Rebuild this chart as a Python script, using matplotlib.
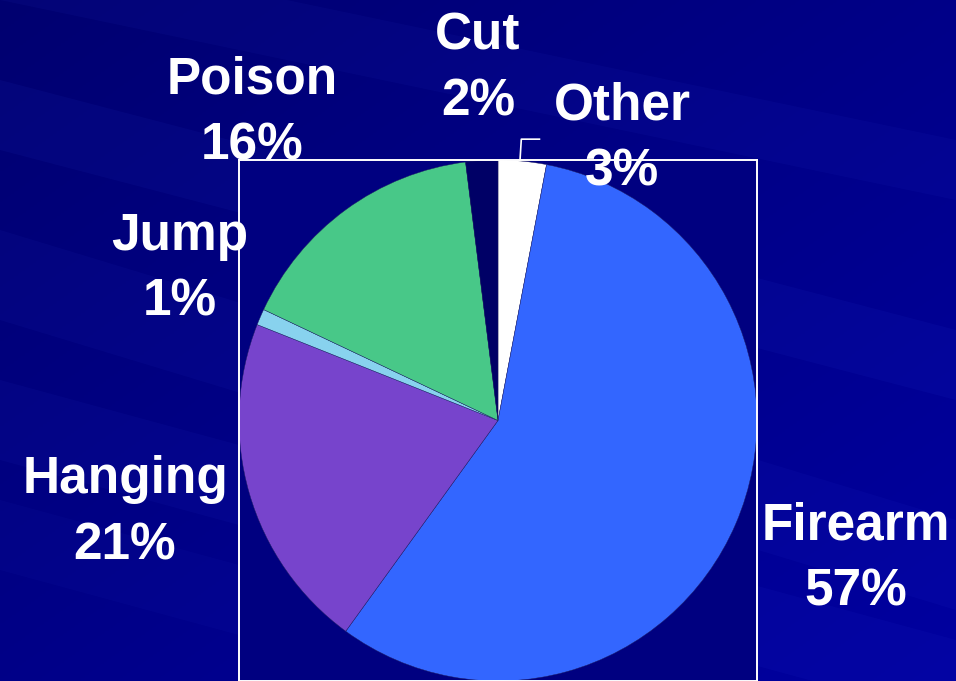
import numpy as np
import matplotlib.pyplot as plt
from matplotlib.colors import LinearSegmentedColormap
from matplotlib.patches import Polygon

# data (clockwise from 12 o'clock)
methods = ['Other', 'Firearm', 'Hanging', 'Jump', 'Poison', 'Cut']
shares = [3, 57, 21, 1, 16, 2]
colors = ['#FFFFFF', '#3366FF', '#7744CC', '#88D2EE', '#48C888', '#000066']

# label centres in pie-axes data units (layout only)
label_xy = {
    'Other':   (0.48, 1.08),
    'Firearm': (1.38, -0.53),
    'Hanging': (-1.44, -0.355),
    'Jump':    (-1.23, 0.58),
    'Poison':  (-0.95, 1.18),
    'Cut':     (-0.077, 1.35),
}

fig = plt.figure(figsize=(9.56, 6.81), dpi=100)
W, H = 956, 681

# background with faint diagonal streaks
bg = fig.add_axes([0, 0, 1, 1], zorder=-5)
grad = np.linspace(0, 1, 256)
gx, gy = np.meshgrid(grad, grad)
g = 0.5 * gx + 0.5 * gy
bg.imshow(g, extent=[0, W, H, 0], aspect='auto',
          cmap=LinearSegmentedColormap.from_list('bgc', ['#000070', '#0000A0']))
for (y0, y1, w, a) in [(80, 330, 70, 0.06), (230, 520, 90, 0.05), (380, 640, 80, 0.05),
                       (-60, 140, 60, 0.05), (500, 760, 70, 0.04)]:
    bg.add_patch(Polygon([(0, y0), (W, y1), (W, y1 + w), (0, y0 + w)],
                         closed=True, color='#4060FF', alpha=a, lw=0))
bg.set_xlim(0, W)
bg.set_ylim(H, 0)
bg.axis('off')

# pie box
ax = fig.add_axes([239 / W, 0, 518 / W, 521 / H])
ax.pie(shares, colors=colors, startangle=90, counterclock=False,
       wedgeprops=dict(linewidth=0.3, edgecolor='#202060'), radius=1.0)
ax.set_xlim(-1.0, 1.0)
ax.set_ylim(-1.0, 1.0)
ax.set_aspect('auto')
ax.set_frame_on(True)
ax.set_facecolor('#000080')
ax.set_xticks([])
ax.set_yticks([])
for s in ax.spines.values():
    s.set_visible(True)
    s.set_color('white')
    s.set_linewidth(1.4)

# leader line for "Other"
ax.plot([0.085, 0.09, 0.16], [1.0, 1.08, 1.08], color='white', lw=1.2, clip_on=False)

for name, val in zip(methods, shares):
    x, y = label_xy[name]
    ax.text(x, y, '{}\n{}%'.format(name, val), ha='center', va='center',
            color='white', fontsize=37, fontweight='bold',
            family=['Liberation Sans', 'DejaVu Sans'], linespacing=1.45,
            clip_on=False, zorder=10)

fig.savefig('out.png', dpi=100)
